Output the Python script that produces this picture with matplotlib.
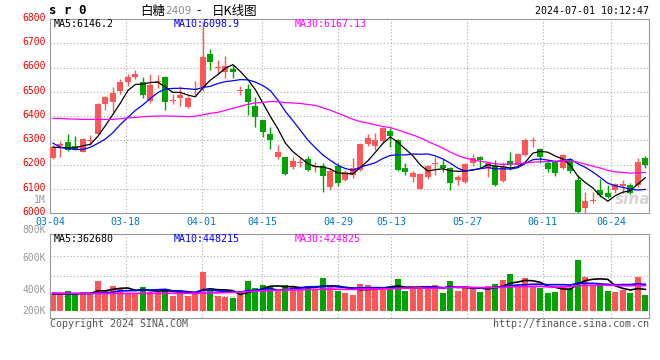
import matplotlib
matplotlib.use("Agg")
import matplotlib.pyplot as plt
import numpy as np
import pandas as pd

plt.rcParams["font.family"] = ["DejaVu Sans Mono", "Noto Sans CJK SC"]

# daily bars of sugar 2409, 2024-03-04 .. 2024-07-01
opens = [6228, 6276, 6291, 6278, 6253, 6298, 6324, 6449, 6459, 6503,
         6540, 6562, 6540, 6462, 6542, 6561, 6462, 6476, 6436, 6506,
         6518, 6656, 6598, 6580, 6594, 6502, 6511, 6443, 6383, 6326,
         6232, 6229, 6191, 6205, 6224, 6188, 6194, 6108, 6194, 6135,
         6157, 6177, 6285, 6276, 6298, 6338, 6301, 6187, 6150, 6099,
         6150, 6202, 6198, 6184, 6136, 6129, 6207, 6229, 6184, 6194,
         6133, 6214, 6198, 6239, 6296, 6264, 6205, 6212, 6184, 6221,
         6136, 6019, 6048, 6095, 6084, 6095, 6111, 6115, 6115, 6225]
highs = [6280, 6298, 6326, 6319, 6309, 6322, 6453, 6484, 6518, 6553,
         6573, 6590, 6561, 6573, 6569, 6565, 6490, 6525, 6481, 6546,
         6785, 6676, 6632, 6646, 6610, 6522, 6532, 6477, 6385, 6353,
         6279, 6232, 6232, 6225, 6235, 6212, 6205, 6184, 6205, 6178,
         6225, 6288, 6324, 6329, 6356, 6352, 6304, 6208, 6174, 6167,
         6198, 6232, 6221, 6188, 6157, 6206, 6243, 6235, 6212, 6218,
         6212, 6251, 6248, 6308, 6315, 6266, 6218, 6218, 6243, 6225,
         6157, 6088, 6088, 6139, 6115, 6125, 6136, 6122, 6225, 6235]
lows = [6222, 6232, 6257, 6260, 6250, 6280, 6322, 6425, 6418, 6489,
        6524, 6552, 6473, 6452, 6514, 6425, 6450, 6440, 6432, 6487,
        6504, 6590, 6573, 6555, 6555, 6485, 6406, 6356, 6314, 6262,
        6223, 6158, 6180, 6191, 6174, 6170, 6088, 6095, 6111, 6130,
        6143, 6174, 6276, 6260, 6294, 6274, 6174, 6157, 6129, 6097,
        6139, 6157, 6170, 6095, 6115, 6125, 6194, 6184, 6150, 6111,
        6129, 6177, 6194, 6236, 6273, 6205, 6170, 6152, 6180, 6165,
        5998, 6000, 6040, 6067, 6060, 6084, 6081, 6078, 6108, 6184]
closes = [6272, 6284, 6261, 6264, 6305, 6302, 6449, 6480, 6495, 6539,
          6561, 6575, 6488, 6528, 6546, 6459, 6466, 6487, 6474, 6509,
          6645, 6624, 6602, 6605, 6583, 6505, 6456, 6394, 6333, 6302,
          6253, 6161, 6216, 6210, 6177, 6192, 6154, 6174, 6125, 6170,
          6184, 6285, 6311, 6301, 6352, 6319, 6177, 6170, 6163, 6161,
          6194, 6206, 6187, 6125, 6147, 6202, 6225, 6218, 6205, 6115,
          6191, 6198, 6243, 6301, 6300, 6230, 6180, 6163, 6239, 6174,
          6003, 6049, 6052, 6074, 6065, 6119, 6119, 6084, 6209, 6198]
# volume in thousands of lots
volumes = [297, 280, 336, 297, 280, 280, 504, 336, 420, 364,
           308, 308, 403, 325, 325, 347, 258, 336, 258, 280,
           655, 336, 258, 241, 224, 325, 504, 392, 437, 420,
           353, 437, 403, 353, 420, 364, 560, 414, 336, 308,
           269, 454, 437, 364, 403, 364, 538, 336, 364, 403,
           403, 437, 302, 504, 336, 403, 364, 319, 420, 454,
           521, 622, 420, 554, 420, 392, 302, 319, 420, 381,
           857, 571, 437, 454, 336, 319, 353, 302, 571, 269]

# moving-average values before enough history is on the chart
ma5_head = [6271, 6270, 6269, 6269]
ma10_head = [6288, 6271, 6265, 6262, 6262, 6271, 6287, 6305, 6331]
ma30_head = [6390, 6390, 6388, 6387, 6386, 6386, 6386, 6386, 6386, 6389,
             6392, 6394, 6397, 6399, 6400, 6400, 6399, 6399, 6397, 6399,
             6405, 6411, 6415, 6423, 6432, 6440, 6448, 6454, 6456]
vol_ma5_head = [286, 286, 286, 286]
vol_ma10_head = [300, 296, 293, 293, 293, 295, 300, 306, 315]
vol_ma30_head = [294, 294, 294, 294, 294, 294, 294, 294, 294, 294,
                 295, 295, 296, 296, 296, 297, 297, 297, 297, 297,
                 300, 303, 306, 309, 313, 318, 325, 332, 338]

date_labels = ["03-04", "03-18", "04-01", "04-15", "04-29", "05-13", "05-27", "06-11", "06-24"]
date_index = [0, 10, 20, 28, 38, 45, 55, 65, 74]
price_ticks = [6000, 6100, 6200, 6300, 6400, 6500, 6600, 6700, 6800]

RED = "#ff5757"
GREEN = "#00a300"
GRID = "#aaaaaa"
BORDER = "#999999"
W, H = 660, 360


def moving_avg(values, n, head):
    ma = pd.Series(values, dtype=float).rolling(n).mean().to_numpy()
    ma[:len(head)] = head
    return ma


def dotted_grid(ax, n):
    x0, x1 = ax.get_xlim()
    for idx in date_index[1:]:
        ax.axvline(x0 + idx / (n - 1) * (x1 - x0), color=GRID, ls=(0, (1, 2)), lw=0.8, zorder=0)


n = len(closes)
x = np.arange(n)
o, c = np.array(opens), np.array(closes)
up = c >= o
colors = np.where(up, RED, GREEN)

fig = plt.figure(figsize=(W / 100, H / 100), dpi=100)

# ---- price panel
ax = fig.add_axes([50 / W, 147 / H, 599 / W, 194 / H])
ax.set_xlim(-0.38, n - 0.51)
ax.set_ylim(6000, 6800)
for v in price_ticks[1:-1]:
    ax.axhline(v, color=GRID, ls=(0, (1, 2)), lw=0.8, zorder=0)
dotted_grid(ax, n)

ax.vlines(x, lows, highs, colors=colors, lw=1, zorder=2)
body = np.maximum(np.abs(c - o), 4)
ax.bar(x, body, bottom=np.minimum(o, c), width=0.76, color=colors, lw=0, zorder=3)

ax.plot(x, moving_avg(closes, 5, ma5_head), color="black", lw=0.9, zorder=4)
ax.plot(x, moving_avg(closes, 10, ma10_head), color="#0000ff", lw=0.9, zorder=4)
ax.plot(x, moving_avg(closes, 30, ma30_head), color="#ff00ff", lw=0.9, zorder=4)

ax.text(0.972, 0.07, "sina", transform=ax.transAxes, ha="center", va="center",
        fontsize=11, fontstyle="italic", fontweight="bold", family="DejaVu Sans",
        color="#d6d6d6", zorder=1)

ax.set_xticks([])
ax.set_yticks([])
for s in ax.spines.values():
    s.set_color(BORDER)

for v in price_ticks:
    ax.text(-0.007, v + 5, str(v), transform=ax.get_yaxis_transform(), ha="right",
            va="center", color="#ee0000", fontsize=7)

x0, x1 = ax.get_xlim()
for lab, idx in zip(date_labels, date_index):
    ax.text(x0 + idx / (n - 1) * (x1 - x0), -0.045, lab, transform=ax.get_xaxis_transform(),
            ha="center", va="center", color="#0077cc", fontsize=7.2)

# ---- volume panel
vax = fig.add_axes([50 / W, 42 / H, 599 / W, 84 / H])
vax.set_xlim(-0.38, n - 0.51)
vax.set_ylim(-118, 1294)
for f in (0.262, 0.5, 0.738):
    vax.plot([0, 1], [f, f], transform=vax.transAxes, color=GRID, ls=(0, (1, 2)), lw=0.8, zorder=0)
dotted_grid(vax, n)
vax.bar(x, volumes, width=0.76, color=colors, lw=0, zorder=2)
vax.plot(x, moving_avg(volumes, 5, vol_ma5_head), color="black", lw=1.2, zorder=3)
vax.plot(x, moving_avg(volumes, 10, vol_ma10_head), color="#0000ff", lw=1.2, zorder=3)
vax.plot(x, moving_avg(volumes, 30, vol_ma30_head), color="#ff00ff", lw=1.2, zorder=3)
vax.set_xticks([])
vax.set_yticks([])
for s in vax.spines.values():
    s.set_color(BORDER)


def ftext(px, py, s, **kw):
    kw.setdefault("fontsize", 7.2)
    kw.setdefault("va", "center")
    fig.text(px / W, 1 - py / H, s, **kw)


# volume axis labels sit where the original draws them
for lab, py in [("1M", 200), ("800K", 230), ("600K", 258), ("400K", 290), ("200K", 311)]:
    ftext(46, py, lab, ha="right", color="#999999", fontsize=7)

# headers
ftext(49, 11, "s r 0", fontsize=9, fontweight="bold")
ftext(140, 11, "白糖", family="Noto Sans CJK SC", fontsize=9)
ftext(165, 11, "2409", family="DejaVu Sans", color="#888888", fontsize=7.5)
ftext(199, 11, "-", family="Noto Sans CJK SC", fontsize=9, ha="center")
ftext(212, 11, "日K线图", family="Noto Sans CJK SC", fontsize=9)
ftext(649, 11, "2024-07-01 10:12:47", ha="right")

ftext(54, 24, "MA5:6146.2", color="black")
ftext(174, 24, "MA10:6098.9", color="#0000ff")
ftext(295, 24, "MA30:6167.13", color="#ff00ff")
ftext(54, 239, "MA5:362680", color="black")
ftext(174, 239, "MA10:448215", color="#0000ff")
ftext(295, 239, "MA30:424825", color="#ff00ff")

ftext(50, 324, "Copyright 2024 SINA.COM", color="#555555")
ftext(649, 324, "http://finance.sina.com.cn", ha="right", color="#555555")

fig.savefig("out.png", dpi=100)
plt.close(fig)
